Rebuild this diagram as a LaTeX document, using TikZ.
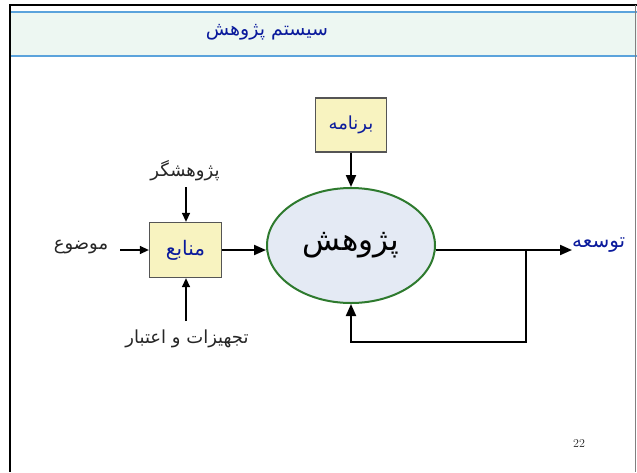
\documentclass[tikz,border=0pt]{standalone}
\usepackage{fontspec}
\usetikzlibrary{arrows.meta,shapes.geometric}
\TeXXeTstate=1
\newfontfamily\arabicfont[Script=Arabic]{DejaVu Sans}
\definecolor{bandfill}{HTML}{EDF7F2}
\definecolor{bandline}{HTML}{5BA3DC}
\definecolor{boxfill}{HTML}{F8F3C0}
\definecolor{boxline}{HTML}{555555}
\definecolor{ellfill}{HTML}{E4EAF4}
\definecolor{ellline}{HTML}{2E7A2E}
\definecolor{titleblue}{HTML}{0A1A9C}
\tikzset{
  arr/.style={draw=black, line width=2pt, -{Triangle[length=12pt,width=10pt]}},
  thinarr/.style={draw=black, line width=1.4pt, -{Triangle[length=9pt,width=8pt]}},
  boxnode/.style={draw=boxline, fill=boxfill, line width=1.3pt, minimum width=72pt, minimum height=55pt, inner sep=0pt},
  lbl/.style={font=\arabicfont\fontsize{18}{20}\selectfont, text=black!85, inner sep=0pt},
  bluetxt/.style={text=titleblue, inner sep=0pt}
}
\begin{document}
\begin{tikzpicture}[x=1pt,y=-1pt]
\useasboundingbox (0,0) rectangle (637,472);
\fill[white] (0,0) rectangle (637,472);
% header band
\fill[bandfill] (10,12) rectangle (637,56);
\draw[bandline, line width=1.3pt] (10,12) -- (637,12);
\draw[bandline, line width=1.3pt] (10,56) -- (637,56);
% frame
\draw[black, line width=2.5pt] (9,5) -- (637,5);
\draw[black, line width=2.8pt] (10,4) -- (10,472);
\draw[black!50, line width=1.5pt] (635.5,5) -- (635.5,472);
% title
\node[bluetxt, font=\arabicfont\fontsize{19}{22}\selectfont] (title) at (267,32) {\beginR سیستم پژوهش\endR};
% nodes
\node[boxnode, font=\arabicfont\fontsize{20}{22}\selectfont, text=titleblue] (src) at (185.5,250) {\beginR منابع\endR};
\node[boxnode, minimum width=71pt, minimum height=54pt, font=\arabicfont\fontsize{18}{20}\selectfont, text=titleblue] (plan) at (351,125) {\beginR برنامه\endR};
\node[ellipse, draw=ellline, fill=ellfill, line width=2pt, minimum width=168pt, minimum height=115pt, inner sep=0pt, font=\arabicfont\fontsize{31}{34}\selectfont] (res) at (351,245.5) {\beginR پژوهش\endR};
\node[lbl] (researcher) at (185,171) {\beginR پژوهشگر\endR};
\node[lbl] (topic) at (81,247) {\beginR موضوع\endR};
\node[lbl] (equip) at (187,339) {\beginR تجهیزات و اعتبار\endR};
\node[bluetxt, font=\arabicfont\fontsize{20}{22}\selectfont, anchor=west] (dev) at (572,245) {\beginR توسعه\endR};
\node[font=\fontsize{12}{14}\selectfont, text=black!85, inner sep=0pt] (pg) at (579,444) {22};
% connectors
\coordinate (rtop) at (186,187);
\coordinate (ebot) at (186,321);
\coordinate (tleft) at (120,250);
\draw[thinarr] (rtop) -- (src.north -| rtop);
\draw[thinarr] (ebot) -- (src.south -| ebot);
\draw[thinarr] (tleft) -- (src.west |- tleft);
\draw[arr] (src.east) -- (res.west |- src.east);
\draw[arr] (plan.south) -- (res.north);
\coordinate (fb) at (526,250);
\coordinate (fbcorner) at (526,342);
\draw[arr] (res.east |- fb) -- (dev.west |- fb);
\draw[arr] (fb) -- (fbcorner) -| (res.south);
\end{tikzpicture}
\end{document}
